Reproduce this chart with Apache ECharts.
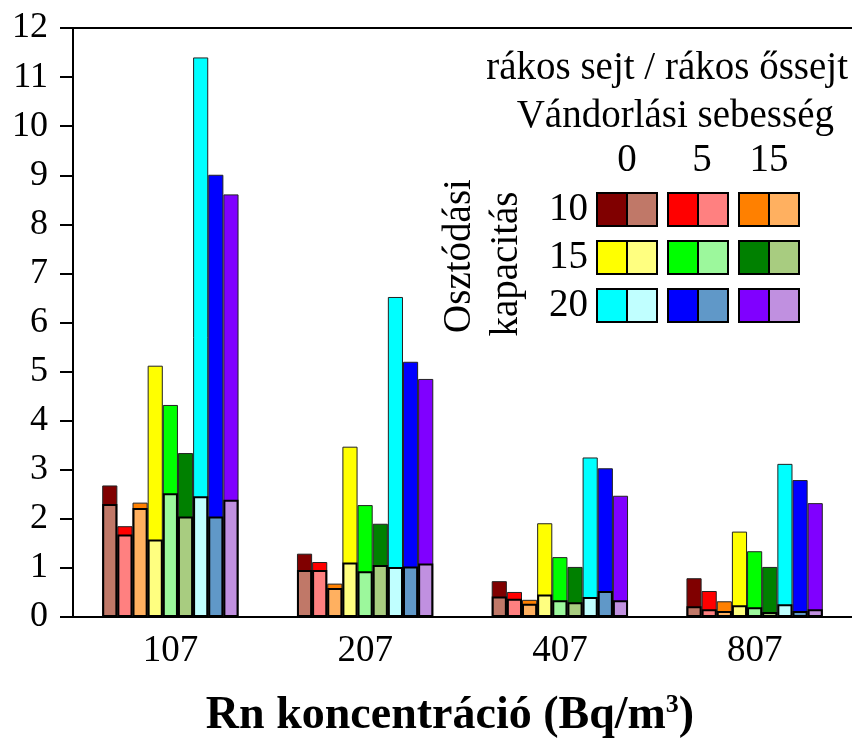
<!DOCTYPE html>
<html>
<head>
<meta charset="utf-8">
<script src="https://cdn.jsdelivr.net/npm/echarts@6/dist/echarts.min.js"></script>
<style>html,body{margin:0;padding:0;background:#fff}#chart{width:852px;height:748px}</style>
</head>
<body>
<div id="chart"></div>
<script>
// Categories (Rn concentration, Bq/m3)
const categories = ['107', '207', '407', '807'];
// Division capacity (rows) and migration speed (columns)
const capacities = ['10', '15', '20'];
const speeds = ['0', '5', '15'];
const yTicks = [0,1,2,3,4,5,6,7,8,9,10,11,12];

// rákos sejt (tall bars): order cap10/v0, cap10/v5, cap10/v15, cap15/v0, ..., cap20/v15
const sejt107 = [2.68, 1.85, 2.33, 5.12, 4.32, 3.34, 11.40, 9.01, 8.61];
const sejt207 = [1.29, 1.12, 0.68, 3.47, 2.28, 1.90, 6.52, 5.20, 4.85];
const sejt407 = [0.73, 0.51, 0.35, 1.91, 1.22, 1.02, 3.25, 3.03, 2.47];
const sejt807 = [0.79, 0.53, 0.32, 1.74, 1.34, 1.02, 3.12, 2.79, 2.32];

// rákos őssejt (front bars)
const ossejt107 = [2.30, 1.68, 2.22, 1.58, 2.52, 2.05, 2.46, 2.05, 2.39];
const ossejt207 = [0.96, 0.96, 0.59, 1.11, 0.93, 1.06, 1.02, 1.03, 1.09];
const ossejt407 = [0.42, 0.37, 0.27, 0.46, 0.34, 0.30, 0.41, 0.53, 0.34];
const ossejt807 = [0.22, 0.16, 0.12, 0.24, 0.20, 0.10, 0.26, 0.12, 0.16];

const sejtColors = ['#800000', '#ff0000', '#ff8000', '#ffff00', '#00ff00', '#008000', '#00ffff', '#0000ff', '#8000ff'];
const ossejtColors = ['#c07868', '#ff8080', '#ffb060', '#ffff80', '#9cf89c', '#a8cc80', '#c0ffff', '#6098c8', '#c090e0'];

const sejtByCat = [sejt107, sejt207, sejt407, sejt807];
const ossejtByCat = [ossejt107, ossejt207, ossejt407, ossejt807];

const FONT = '"Liberation Serif", "Times New Roman", serif';

const series = [];
for (let i = 0; i < 9; i++) {
  const name = 'Osztódási kapacitás ' + capacities[Math.floor(i / 3)] + ', Vándorlási sebesség ' + speeds[i % 3];
  series.push({
    name: 'rákos sejt – ' + name,
    type: 'bar',
    xAxisIndex: 0,
    barGap: '0%',
    barCategoryGap: '30%',
    z: 2,
    itemStyle: { color: sejtColors[i], borderColor: '#222', borderWidth: 1 },
    data: sejtByCat.map(arr => arr[i])
  });
}
for (let i = 0; i < 9; i++) {
  const name = 'Osztódási kapacitás ' + capacities[Math.floor(i / 3)] + ', Vándorlási sebesség ' + speeds[i % 3];
  series.push({
    name: 'rákos őssejt – ' + name,
    type: 'bar',
    xAxisIndex: 1,
    barGap: '0%',
    barCategoryGap: '30%',
    z: 3,
    itemStyle: { color: ossejtColors[i], borderColor: '#000', borderWidth: 2 },
    data: ossejtByCat.map(arr => arr[i])
  });
}

// Legend block (graphic)
const graphic = [];
const legFont = '39px ' + FONT;
graphic.push({ type: 'text', style: { text: 'rákos sejt / rákos őssejt', x: 848, y: 69, font: legFont, fill: '#000', textAlign: 'right', textVerticalAlign: 'middle' } });
graphic.push({ type: 'text', style: { text: 'Vándorlási sebesség', x: 834, y: 117, font: legFont, fill: '#000', textAlign: 'right', textVerticalAlign: 'middle' } });
const colX = [597, 668, 739];
const rowY = [193, 241, 289];
const sw = 30, sh = 33;
speeds.forEach((s, c) => {
  graphic.push({ type: 'text', style: { text: s, x: colX[c] + sw + (c === 1 ? 4 : 0), y: 161, font: legFont, fill: '#000', textAlign: 'center', textVerticalAlign: 'middle' } });
});
capacities.forEach((cap, r) => {
  graphic.push({ type: 'text', style: { text: cap, x: 588, y: rowY[r] + sh / 2, font: legFont, fill: '#000', textAlign: 'right', textVerticalAlign: 'middle' } });
  speeds.forEach((s, c) => {
    const k = r * 3 + c;
    graphic.push({ type: 'rect', shape: { x: colX[c], y: rowY[r], width: sw, height: sh }, style: { fill: sejtColors[k], stroke: '#000', lineWidth: 2 } });
    graphic.push({ type: 'rect', shape: { x: colX[c] + sw, y: rowY[r], width: sw, height: sh }, style: { fill: ossejtColors[k], stroke: '#000', lineWidth: 2 } });
  });
});
graphic.push({ type: 'text', x: 460, y: 256, rotation: Math.PI / 2, style: { text: 'Osztódási', x: 0, y: 0, font: legFont, fill: '#000', textAlign: 'center', textVerticalAlign: 'middle' } });
graphic.push({ type: 'text', x: 507, y: 264, rotation: Math.PI / 2, style: { text: 'kapacitás', x: 0, y: 0, font: legFont, fill: '#000', textAlign: 'center', textVerticalAlign: 'middle' } });

// Axis title
graphic.push({ type: 'text', style: {
  text: 'Rn koncentráció (Bq/m{sup|3})', x: 450, y: 716, textAlign: 'center', textVerticalAlign: 'middle',
  font: 'bold 46px ' + FONT, fill: '#000',
  rich: { sup: { fontSize: 26, fontWeight: 'bold', fontFamily: FONT, verticalAlign: 'top', padding: [0, 0, 22, 0] } }
} });

const chart = echarts.init(document.getElementById('chart'), null, { renderer: 'canvas' });
chart.setOption({
  animation: false,
  backgroundColor: '#fff',
  grid: { left: 73, right: 0, top: 28, bottom: 131 },
  xAxis: [
    {
      type: 'category', data: categories, position: 'bottom',
      axisLine: { lineStyle: { color: '#000', width: 2 } },
      axisTick: { show: false },
      axisLabel: { color: '#000', fontFamily: FONT, fontSize: 37, margin: 16 }
    },
    {
      type: 'category', data: categories, position: 'top',
      axisLine: { show: true, lineStyle: { color: '#000', width: 2 } },
      axisTick: { show: false },
      axisLabel: { show: false }
    }
  ],
  yAxis: {
    type: 'value', min: yTicks[0], max: yTicks[yTicks.length - 1], interval: 1,
    axisLine: { show: true, lineStyle: { color: '#000', width: 2 } },
    axisTick: { show: true, length: 13, lineStyle: { color: '#000', width: 2 } },
    axisLabel: { color: '#000', fontFamily: FONT, fontSize: 36, margin: 25 },
    splitLine: { show: false }
  },
  series: series,
  graphic: graphic
});
</script>
</body>
</html>
